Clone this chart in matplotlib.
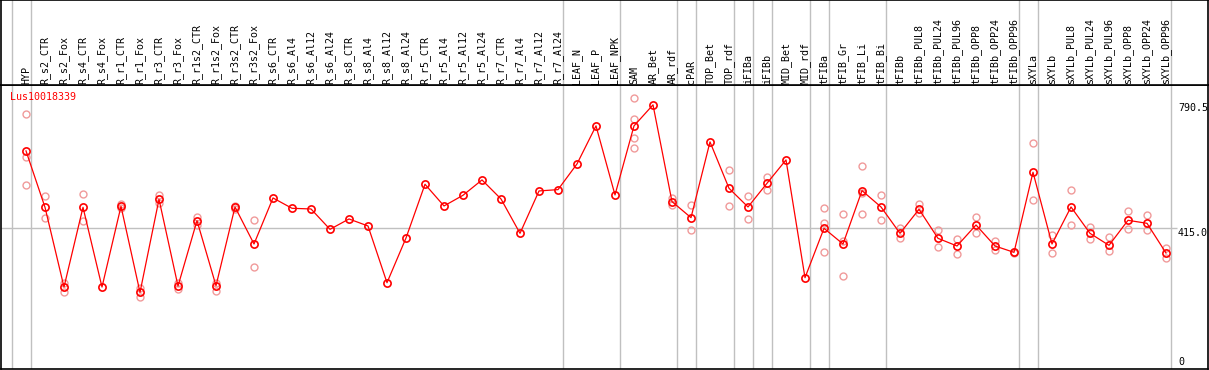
import numpy as np
import matplotlib.pyplot as plt

# sample names along the x axis
samples = ['HYP', 'R_s2_CTR', 'R_s2_Fox', 'R_s4_CTR', 'R_s4_Fox', 'R_r1_CTR', 'R_r1_Fox',
           'R_r3_CTR', 'R_r3_Fox', 'R_r1s2_CTR', 'R_r1s2_Fox', 'R_r3s2_CTR', 'R_r3s2_Fox',
           'R_s6_CTR', 'R_s6_Al4', 'R_s6_Al12', 'R_s6_Al24', 'R_s8_CTR', 'R_s8_Al4',
           'R_s8_Al12', 'R_s8_Al24', 'R_r5_CTR', 'R_r5_Al4', 'R_r5_Al12', 'R_r5_Al24',
           'R_r7_CTR', 'R_r7_Al4', 'R_r7_Al12', 'R_r7_Al24', 'LEAF_N', 'LEAF_P', 'LEAF_NPK',
           'SAM', 'AR_Bet', 'AR_rdf', 'cPAR', 'TOP_Bet', 'TOP_rdf', 'iFIBa', 'iFIBb',
           'MID_Bet', 'MID_rdf', 'tFIBa', 'tFIB_Gr', 'tFIB_Li', 'tFIB_Bi', 'tFIBb',
           'tFIBb_PUL8', 'tFIBb_PUL24', 'tFIBb_PUL96', 'tFIBb_OPP8', 'tFIBb_OPP24',
           'tFIBb_OPP96', 'sXYLa', 'sXYLb', 'sXYLb_PUL8', 'sXYLb_PUL24', 'sXYLb_PUL96',
           'sXYLb_OPP8', 'sXYLb_OPP24', 'sXYLb_OPP96']

# mean expression per sample
means = [647, 478, 239, 478, 239, 481, 223, 502, 242, 438, 243, 479, 368,
         506, 475, 473, 412, 443, 422, 252, 386, 547, 482, 514, 560,
         503, 400, 527, 531, 608, 722, 515,
         722, 785, 495, 447, 674, 535, 479, 550,
         620, 267, 415, 368, 528, 479, 400,
         472, 385, 362, 425, 362, 343,
         583, 368, 479, 400, 364, 439, 430, 341]

# individual replicates (empty where they sit under the mean)
replicates = [[757, 630, 544], [512, 445], [252, 224], [518, 438], [],
              [487, 475], [237, 210], [515, 492], [250, 234], [450, 426],
              [250, 228], [482, 472], [440, 299],
              [], [], [], [], [], [], [], [], [], [], [], [], [], [], [], [],
              [], [], [],
              [805, 742, 685, 655], [], [505, 485], [484, 410], [], [589, 482],
              [512, 442], [569, 531], [], [],
              [476, 430, 344], [457, 376, 272], [601, 520, 457], [514, 440],
              [417, 387], [487, 460], [410, 358], [382, 337], [449, 400],
              [377, 349], [345, 340],
              [670, 500], [395, 340], [530, 424], [419, 382], [388, 346],
              [467, 412], [455, 409], [355, 327]]

# last sample index of each group (vertical separators)
group_ends = [-1, 0, 28, 31, 34, 35, 37, 38, 39, 41, 42, 45, 52, 53, 60]

gene = 'Lus10018339'
ytick_vals = [790.5, 415.0, 0]

W, H = 1209, 370
fig = plt.figure(figsize=(W / 100, H / 100), dpi=100)
mono = 'DejaVu Sans Mono'
fsize = 7.2

x = np.arange(len(samples))
xlim = (-25 / 19, (1208 - 26) / 19)
ylim = (-6.6, 844.5)
grey = '#c0c0c0'

# main plotting area
ax = fig.add_axes([1 / W, 1 / H, 1207 / W, 284 / H])
ax.set_xlim(*xlim)
ax.set_ylim(*ylim)
for g in group_ends:
    ax.axvline(g + 0.24, color=grey, lw=1.0, zorder=1)
ax.hlines(415, xlim[0], 60.6, color=grey, lw=1.0, zorder=1)

rx = [i for i, r in enumerate(replicates) for _ in r]
ry = [v for r in replicates for v in r]
ax.plot(rx, ry, 'o', ms=5, mfc='none', mec='#f09a9a', mew=1.0, zorder=2)
ax.plot(x, means, '-', color='red', lw=0.9, marker='o', ms=5.2, mfc='none',
        mec='red', mew=1.2, zorder=3)

ax.text(-0.84, 808, gene, color='red', family=mono, fontsize=fsize,
        ha='left', va='center')
for v in ytick_vals:
    ax.text(60.63, v, f'{v:g}' if v == 0 else f'{v:.1f}', family=mono,
            fontsize=fsize, ha='left', va='bottom' if v == 0 else 'top')

ax.set_xticks([])
ax.set_yticks([])
for s in ax.spines.values():
    s.set_color('black')
    s.set_linewidth(1.2)

# label strip on top
axt = fig.add_axes([1 / W, 285 / H, 1207 / W, 85 / H])
axt.set_xlim(*xlim)
axt.set_ylim(0, 1)
for g in group_ends:
    axt.axvline(g + 0.24, color=grey, lw=1.0)
for i, name in enumerate(samples):
    axt.text(i, 0.015, name, rotation=90, family=mono, fontsize=fsize,
             ha='center', va='bottom')
axt.set_xticks([])
axt.set_yticks([])
for s in axt.spines.values():
    s.set_color('black')
    s.set_linewidth(1.2)

fig.savefig('out.png', dpi=100)
